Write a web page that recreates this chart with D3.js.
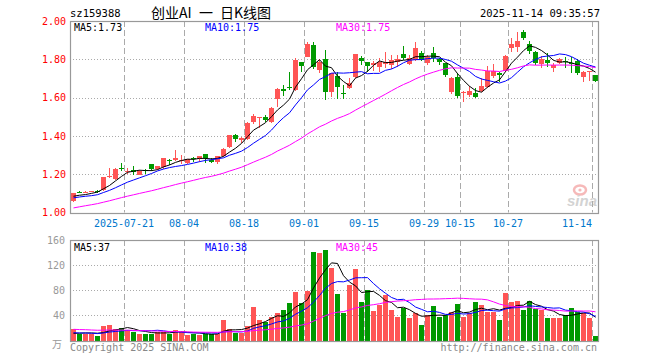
<!DOCTYPE html>
<html><head><meta charset="utf-8">
<script src="https://cdn.jsdelivr.net/npm/d3@7"></script>
<style>body{margin:0;background:#fff}svg{display:block}</style>
</head><body>
<script>
// ---------- data ----------
const dates = ["07-08","07-09","07-10","07-11","07-14","07-15","07-16","07-17","07-18","07-21","07-22","07-23","07-24","07-25","07-28","07-29","07-30","07-31",
"08-01","08-04","08-05","08-06","08-07","08-08","08-11","08-12","08-13","08-14","08-15","08-18","08-19","08-20","08-21","08-22","08-25","08-26","08-27","08-28","08-29",
"09-01","09-02","09-03","09-04","09-05","09-08","09-09","09-10","09-11","09-12","09-15","09-16","09-17","09-18","09-19","09-22","09-23","09-24","09-25","09-26","09-29","09-30",
"10-09","10-10","10-13","10-14","10-15","10-16","10-17","10-20","10-21","10-22","10-23","10-24","10-27","10-28","10-29","10-30","10-31",
"11-03","11-04","11-05","11-06","11-07","11-10","11-11","11-12","11-13","11-14"];
const open  = [1.062,1.108,1.105,1.109,1.112,1.117,1.190,1.175,1.230,1.216,1.224,1.197,1.220,1.253,1.227,1.239,1.272,1.275,1.272,1.257,1.283,1.281,1.305,1.274,1.265,1.293,1.344,1.405,1.377,1.384,1.471,1.497,1.500,1.471,1.593,1.643,1.657,1.640,1.784,1.814,1.875,1.744,1.801,1.628,1.714,1.625,1.649,1.709,1.808,1.784,1.770,1.761,1.774,1.770,1.784,1.830,1.777,1.796,1.831,1.779,1.831,1.801,1.779,1.631,1.709,1.622,1.614,1.626,1.634,1.657,1.714,1.730,1.740,1.857,1.866,1.944,1.882,1.840,1.774,1.796,1.753,1.782,1.790,1.782,1.791,1.709,1.735,1.718];
const high  = [1.102,1.112,1.110,1.114,1.116,1.187,1.232,1.232,1.257,1.232,1.243,1.222,1.226,1.255,1.245,1.287,1.281,1.326,1.299,1.280,1.291,1.297,1.307,1.283,1.296,1.336,1.407,1.410,1.393,1.470,1.515,1.499,1.510,1.549,1.648,1.666,1.732,1.805,1.787,1.892,1.892,1.800,1.849,1.730,1.732,1.666,1.704,1.830,1.819,1.787,1.790,1.805,1.836,1.820,1.820,1.869,1.820,1.889,1.845,1.822,1.866,1.808,1.782,1.707,1.727,1.635,1.660,1.650,1.700,1.767,1.774,1.735,1.822,1.910,1.944,1.954,1.895,1.842,1.815,1.831,1.780,1.808,1.810,1.810,1.800,1.737,1.737,1.720];
const low   = [1.056,1.102,1.100,1.105,1.104,1.112,1.182,1.172,1.215,1.203,1.196,1.196,1.200,1.218,1.223,1.227,1.250,1.270,1.252,1.255,1.265,1.264,1.260,1.257,1.251,1.290,1.338,1.370,1.365,1.380,1.463,1.440,1.471,1.465,1.553,1.610,1.640,1.635,1.732,1.810,1.750,1.730,1.587,1.605,1.591,1.591,1.645,1.700,1.770,1.732,1.740,1.735,1.753,1.750,1.758,1.796,1.770,1.790,1.790,1.770,1.787,1.770,1.709,1.620,1.597,1.578,1.605,1.600,1.630,1.650,1.700,1.683,1.735,1.840,1.840,1.900,1.830,1.770,1.753,1.761,1.735,1.775,1.755,1.727,1.718,1.680,1.687,1.680];
const close = [1.100,1.106,1.107,1.111,1.110,1.185,1.192,1.227,1.228,1.218,1.213,1.218,1.218,1.227,1.243,1.285,1.268,1.285,1.276,1.278,1.280,1.295,1.283,1.263,1.293,1.333,1.405,1.383,1.390,1.467,1.505,1.499,1.483,1.547,1.643,1.632,1.655,1.796,1.767,1.878,1.761,1.787,1.628,1.727,1.657,1.622,1.675,1.828,1.793,1.767,1.781,1.787,1.787,1.796,1.801,1.805,1.805,1.861,1.796,1.814,1.808,1.787,1.718,1.704,1.610,1.631,1.634,1.605,1.661,1.740,1.740,1.718,1.819,1.882,1.897,1.910,1.843,1.779,1.800,1.782,1.768,1.800,1.784,1.775,1.730,1.735,1.737,1.687];
const volume = [18,11,11,11,7,23,25,18,20,17,14,10,11,11,14,14,11,17,14,9,11,9,11,10,11,33,19,12,12,23,53,33,30,37,44,48,60,78,60,79,141,139,144,115,74,44,88,114,62,80,47,56,72,48,38,51,36,43,25,41,55,38,41,46,58,38,43,62,56,46,46,32,76,62,63,48,63,50,49,36,36,36,41,52,46,44,36,7];
// sessions before the first visible candle (used only to start the moving averages)
const priorClose = [0.93,0.94,0.95,0.94,0.96,0.97,0.98,0.98,0.99,1.00,1.00,1.01,1.02,1.01,1.03,1.04,1.03,1.05,1.06,1.06,1.06,1.07,1.08,1.06,1.07,1.08,1.09,1.08,1.075];
const priorVolume = [22,18,25,19,21,16,24,20,23,18,22,19,17,21,25,20,18,22,19,21,15,12,14,13,13,10,9,11,9];
const tickDates  = ["07-21","08-04","08-18","09-01","09-15","09-29","10-15","10-27","11-14"];
const tickLabels = ["2025-07-21","08-04","08-18","09-01","09-15","09-29","10-15","10-27","11-14"];
const priceTicks = [1.00,1.20,1.40,1.60,1.80,2.00];
const volumeTicks = [40,80,120,160];
const maPeriods = [5,10,30];
const maColors = ["#000000","#0000ff","#ff00ff"];

// ---------- layout ----------
const W=660,H=360, L=70, R=598, pTop=21, pBot=212.5, vTop=240, vBot=340.5;
const UP="#ff5555", DOWN="#009900", MONO="'DejaVu Sans Mono', 'Liberation Mono', monospace";

const svg=d3.select("body").append("svg").attr("width",W).attr("height",H);
const x=d3.scaleBand().domain(dates).range([L,R]);
const y=d3.scaleLinear().domain([1,2]).range([pBot,pTop]);
const yv=d3.scaleLinear().domain([0,160]).range([vBot,vTop]);

function ma(series, prior, n){
  const all=prior.concat(series), off=prior.length;
  return series.map((_,i)=>{const s=all.slice(off+i-n+1,off+i+1);return d3.mean(s);});
}
const pMA=maPeriods.map(n=>ma(close,priorClose,n));
const vMA=maPeriods.map(n=>ma(volume,priorVolume,n));

// grid
function grid(top,bot,scale,ticks){
  const g=svg.append("g");
  g.selectAll("line.h").data(ticks).enter().append("line")
    .attr("x1",L).attr("x2",R).attr("y1",d=>Math.round(scale(d))+0.5).attr("y2",d=>Math.round(scale(d))+0.5)
    .attr("stroke","#aaa").attr("stroke-dasharray","1,2");
  g.selectAll("line.v").data(tickDates).enter().append("line")
    .attr("x1",d=>x(d)+0.5).attr("x2",d=>x(d)+0.5).attr("y1",top).attr("y2",bot)
    .attr("stroke","#aaa").attr("stroke-dasharray","6,3");
}
grid(pTop,pBot,y,priceTicks.slice(1,-1));
grid(vTop,vBot,yv,volumeTicks.slice(0,-1));

// watermark
const wm=svg.append("g").attr("opacity",0.55);
wm.append("ellipse").attr("cx",580).attr("cy",190).attr("rx",6).attr("ry",4.5).attr("fill","none").attr("stroke","#f08080").attr("stroke-width",2.5);
wm.append("circle").attr("cx",580).attr("cy",190).attr("r",1.6).attr("fill","#f08080");
wm.append("text").attr("x",597).attr("y",206).attr("text-anchor","end").attr("font-family","'Liberation Sans',Arial").attr("font-style","italic").attr("font-weight","bold").attr("font-size",15).attr("fill","#b0b0b0").text("sina");

// candles
const idx=d3.range(dates.length);
const cg=svg.append("g").attr("shape-rendering","crispEdges");
cg.selectAll("rect.w").data(idx).enter().append("rect")
  .attr("x",i=>x(dates[i])+3).attr("width",1)
  .attr("y",i=>y(high[i])).attr("height",i=>Math.max(1,y(low[i])-y(high[i])))
  .attr("fill",i=>close[i]>=open[i]?UP:DOWN);
cg.selectAll("rect.b").data(idx).enter().append("rect")
  .attr("x",i=>x(dates[i])+1).attr("width",5)
  .attr("y",i=>y(Math.max(open[i],close[i]))).attr("height",i=>Math.max(1,Math.abs(y(open[i])-y(close[i]))))
  .attr("fill",i=>close[i]>=open[i]?UP:DOWN);
// volume bars
cg.selectAll("rect.v").data(idx).enter().append("rect")
  .attr("x",i=>x(dates[i])+1).attr("width",5)
  .attr("y",i=>yv(volume[i])).attr("height",i=>vBot-yv(volume[i]))
  .attr("fill",i=>close[i]>=open[i]?UP:DOWN);

// MA lines
function drawMA(arr,scale,color){
  const line=d3.line().x((d,i)=>x(dates[i])+3.5).y(d=>scale(d));
  svg.append("path").datum(arr).attr("d",line).attr("fill","none").attr("stroke",color).attr("stroke-width",1);
}
pMA.forEach((a,k)=>drawMA(a,y,maColors[k]));
vMA.forEach((a,k)=>drawMA(a,yv,maColors[k]));

// frames
[[pTop,pBot],[vTop,vBot]].forEach(([t,b])=>{
  svg.append("rect").attr("x",L+0.5).attr("y",Math.round(t)+0.5).attr("width",R-L).attr("height",Math.round(b)-Math.round(t))
    .attr("fill","none").attr("stroke","#999").attr("stroke-width",1.2);
});

// axis labels
const txt=(xx,yy,s,col,anchor,size,fam)=>svg.append("text").attr("x",xx).attr("y",yy).attr("fill",col)
  .attr("text-anchor",anchor||"start").attr("font-size",size||10).attr("font-family",fam||MONO).text(s);
const yAxis=d3.axisLeft(y).tickValues(priceTicks).tickFormat(d3.format(".2f")).tickSize(0).tickPadding(4);
const ga=svg.append("g").attr("transform",`translate(${L},0)`).call(yAxis);
ga.select(".domain").remove();
ga.selectAll("text").attr("fill","#ff0000").attr("font-family",MONO).attr("font-size",10);
const vAxis=d3.axisLeft(yv).tickValues(volumeTicks).tickSize(0).tickPadding(5);
const gv=svg.append("g").attr("transform",`translate(${L},0)`).call(vAxis);
gv.select(".domain").remove();
gv.selectAll("text").attr("fill","#999").attr("font-family",MONO).attr("font-size",10);
txt(L-8,348,"万","#999","end",10,"'Noto Sans CJK SC'");

const xAxis=d3.axisBottom(x).tickValues(tickDates).tickFormat((d,i)=>tickLabels[i]).tickSize(0).tickPadding(0);
const gx=svg.append("g").attr("transform",`translate(-3,${pBot+7})`).call(xAxis);
gx.select(".domain").remove();
gx.selectAll("text").attr("fill","#0077cc").attr("font-family",MONO).attr("font-size",10);
// keep the last label inside the frame, as the reference does
gx.selectAll(".tick").filter((d,i)=>i===tickDates.length-1).select("text")
  .attr("text-anchor","end").attr("dx",R-3-(x(tickDates[tickDates.length-1])+x.bandwidth()/2-3)-3);

// titles
txt(70,17,"sz159388","#000","start",10.5);
const tt=svg.append("text").attr("y",18).attr("font-size",14).attr("font-family","'Noto Sans CJK SC'").attr("fill","#000");
[["创业AI",151],["一",199],["日K线图",220]].forEach(([s,xx])=>tt.append("tspan").attr("x",xx).text(s));
txt(600,17,"2025-11-14 09:35:57","#000","end",10.5);

// MA legends
const trunc2=v=>(Math.floor(v*100+1e-9)/100).toFixed(2);
const last=a=>a[a.length-1];
const legX=[74,205,336];
maPeriods.forEach((n,k)=>{
  txt(legX[k],31,`MA${n}:${trunc2(last(pMA[k]))}`,k==0?"#000":maColors[k]);
  txt(legX[k],251,`MA${n}:${Math.floor(last(vMA[k]))}`,k==0?"#000":maColors[k]);
});

txt(70,351,"Copyright 2025 SINA.COM","#888");
txt(597,351,"http://finance.sina.com.cn","#888","end");
</script>
</body></html>
